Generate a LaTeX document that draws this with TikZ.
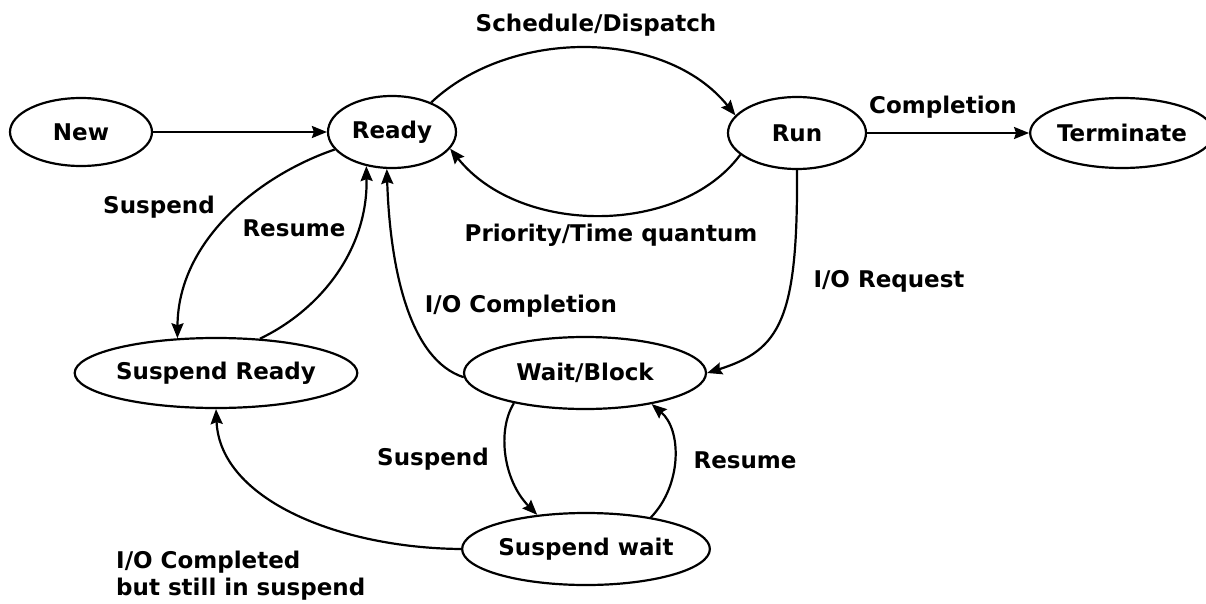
\documentclass[tikz,border=0pt]{standalone}
\usepackage{fontspec}
\setmainfont{DejaVu Sans}
\usetikzlibrary{arrows.meta,shapes.geometric}
\tikzset{
  state/.style={ellipse,draw,line width=2.2pt,inner sep=0pt,font=\bfseries\fontsize{23}{27}\selectfont},
  lbl/.style={font=\bfseries\fontsize{23}{27}\selectfont,inner sep=0pt},
  conn/.style={line width=2.2pt,-{Stealth[length=15pt,width=12pt,inset=2pt]}}
}
\begin{document}
\begin{tikzpicture}[x=1pt,y=-1pt]
\path[use as bounding box,fill=white] (0,0) rectangle (1206,604);
\node[state,minimum width=142pt,minimum height=68pt] (new) at (81,132) {New};
\node[state,minimum width=128pt,minimum height=72pt] (ready) at (392,132) {Ready};
\node[state,minimum width=138pt,minimum height=72pt] (run) at (797,133) {Run};
\node[state,minimum width=160pt,minimum height=70pt] (term) at (1122,133) {Terminate};
\node[state,minimum width=244pt,minimum height=70pt] (sready) at (216,373) {Suspend Ready};
\node[state,minimum width=242pt,minimum height=72pt] (wait) at (585,373) {Wait/Block};
\node[state,minimum width=242pt,minimum height=72pt] (swait) at (586,549) {Suspend wait};

\node[lbl] (l1) at (596,25) {Schedule/Dispatch};
\node[lbl] (l2) at (943,107) {Completion};
\node[lbl] (l3) at (159,207) {Suspend};
\node[lbl] (l4) at (294,228) {Resume};
\node[lbl] (l5) at (611,235) {Priority/Time quantum};
\node[lbl] (l6) at (889,281) {I/O Request};
\node[lbl] (l7) at (521,306) {I/O Completion};
\node[lbl] (l8) at (433,459) {Suspend};
\node[lbl] (l9) at (745,460) {Resume};
\node[lbl,anchor=north west,align=left] (l10) at (116,551) {I/O Completed\\but still in suspend};

\draw[conn] (new) -- (ready);
\draw[conn] (run) -- (term);
\draw[conn] (ready.37) .. controls (510,28) and (665,28) .. (run.164);
\draw[conn] (run.201) .. controls (680,236) and (520,236) .. (ready.-16);
\draw[conn] (ready.197) .. controls (260,175) and (178,240) .. (sready.138);
\draw[conn] (sready.38) .. controls (320,310) and (368,250) .. (ready.-127);
\draw[conn] (wait.182) .. controls (410,360) and (390,270) .. (ready.-98);
\draw[conn] (run.-90) .. controls (798,320) and (780,350) .. (wait.0);
\draw[conn] (wait.-157) .. controls (497,430) and (503,480) .. (swait.145);
\draw[conn] (swait.26) .. controls (682,485) and (682,430) .. (wait.-25);
\draw[conn] (swait.180) .. controls (340,548) and (220,500) .. (sready.-90);
\end{tikzpicture}
\end{document}
